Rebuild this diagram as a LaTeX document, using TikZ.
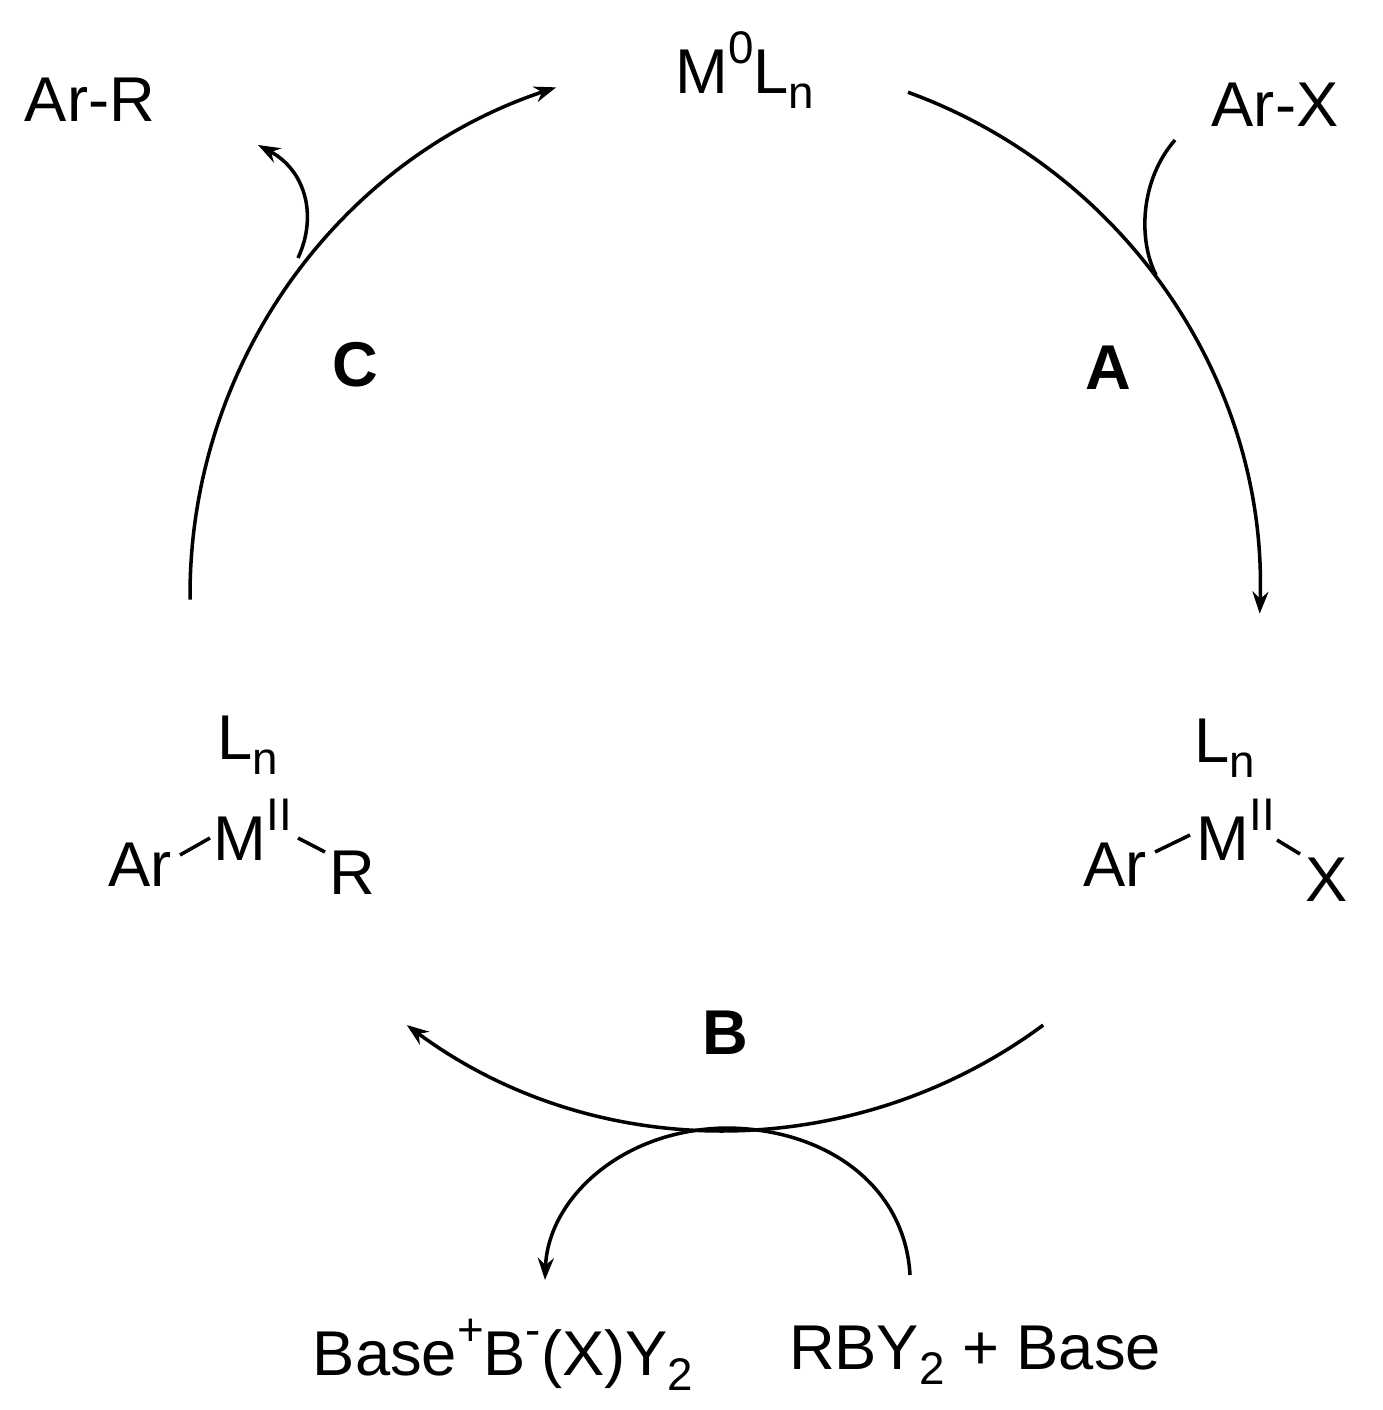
\documentclass[tikz,border=0pt]{standalone}
\usepackage{fontspec}
\setmainfont{Liberation Sans}
\usetikzlibrary{arrows.meta}
\newcommand{\mysub}[1]{\raisebox{-0.45ex}{\fontsize{13}{13}\selectfont #1}}
\newcommand{\mysup}[1]{\raisebox{0.9ex}{\fontsize{13}{13}\selectfont #1}}
\begin{document}
\begin{tikzpicture}[x=0.01cm,y=-0.01cm,
  txt/.style={font=\fontsize{18}{21}\selectfont,inner sep=0pt},
  lbl/.style={font=\fontsize{18}{21}\selectfont\bfseries,inner sep=0pt},
  ln/.style={line width=1pt},
  arr/.style={ln,-{Stealth[length=2.2mm,width=1.6mm]}}]
\useasboundingbox (0,0) rectangle (1383,1410);
\coordinate (c) at (725,595);
\node[txt] (m0) at (745,70) {M\mysup{0}L\mysub{n}};
\node[txt] (arr) at (90,100) {Ar-R};
\node[txt] (arx) at (1275,105) {Ar-X};
\node[lbl] (C) at (355,365) {C};
\node[lbl] (A) at (1108,368) {A};
\node[lbl] (B) at (725,1033) {B};
% left complex
\node[txt] (lln) at (248,745) {L\mysub{n}};
\node[txt] (lar) at (140,865) {Ar};
\node[txt] (lm) at (253,830) {M\mysup{II}};
\node[txt] (lr) at (352,873) {R};
\draw[ln] (180,855) -- (210,838);
\draw[ln] (298,838) -- (325,852);
% right complex
\node[txt] (rln) at (1225,748) {L\mysub{n}};
\node[txt] (rar) at (1115,865) {Ar};
\node[txt] (rm) at (1236,830) {M\mysup{II}};
\node[txt] (rx) at (1327,880) {X};
\draw[ln] (1155,852) -- (1190,835);
\draw[ln] (1277,840) -- (1300,854);
% bottom
\node[txt] (bb) at (503,1355) {Base\mysup{+}B\mysup{-}(X)Y\mysub{2}};
\node[txt] (rb) at (975,1355) {RBY\mysub{2} + Base};
% cycle arcs
\draw[arr] (c) ++(290:535) arc[start angle=290,end angle=362,radius=535];
\draw[arr] (c) ++(53.5:535) arc[start angle=53.5,end angle=126.5,radius=535];
\draw[arr] (c) ++(179.5:535) arc[start angle=179.5,end angle=251.6,radius=535];
% side arrows
\coordinate (p1) at (1175,140);
\coordinate (q1) at (1156,275);
\draw[ln] (p1) .. controls (1140,180) and (1138,240) .. (q1);
\coordinate (p2) at (298,258);
\coordinate (q2) at (258,145);
\draw[arr] (p2) .. controls (318,215) and (305,170) .. (q2);
\coordinate (bt) at (725,1128);
\coordinate (e1) at (545,1280);
\coordinate (s2) at (910,1275);
\draw[arr] (bt) .. controls (620,1130) and (548,1200) .. (e1);
\draw[ln] (s2) .. controls (905,1185) and (825,1128) .. (bt);
\end{tikzpicture}
\end{document}
